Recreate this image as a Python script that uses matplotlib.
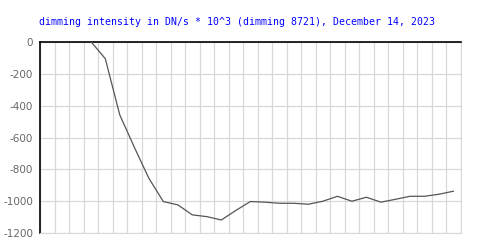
import matplotlib
matplotlib.use('Agg')
import matplotlib.pyplot as plt
import numpy as np

# dimming values, one per slot (slot centers between grid lines)
slots = list(range(29))
values = [60, 40, 20, 5, -103, -457, -660, -855, -1002, -1023,
          -1086, -1097, -1118, -1058, -1002, -1006, -1013, -1013, -1019, -1000,
          -969, -1000, -975, -1006, -988, -969, -969, -956, -937]
yticks = [0, -200, -400, -600, -800, -1000, -1200]
title = 'dimming intensity in DN/s * 10^3 (dimming 8721), December 14, 2023'

fig = plt.figure(figsize=(5, 2.5), dpi=100)
ax = fig.add_axes([0.08, 0.068, 0.8414, 0.7628])

x = np.array(slots) + 0.5
ax.plot(x, values, color='#555555', lw=0.9, zorder=3)

ax.set_xlim(0, 29)
ax.set_ylim(-1200, 0)
ax.set_xticks(range(30))
ax.set_yticks(yticks)
ax.set_yticklabels([str(v) for v in yticks])
ax.grid(True, color='#d8d8d8', lw=0.9)
ax.set_axisbelow(True)
ax.tick_params(axis='x', length=0, labelbottom=False)
ax.tick_params(axis='y', length=0, labelsize=7.5, labelcolor='#666666', pad=5)

for s in ['bottom', 'right']:
    ax.spines[s].set_color('#d8d8d8')
for s in ['top', 'left']:
    ax.spines[s].set_color('black')
    ax.spines[s].set_linewidth(1.2)

fig.text(39 / 500, 1 - 22 / 250, title, color='#0000ff', family='DejaVu Sans Mono',
         fontsize=7.15, va='center', ha='left')

fig.savefig('out.png', dpi=100)
